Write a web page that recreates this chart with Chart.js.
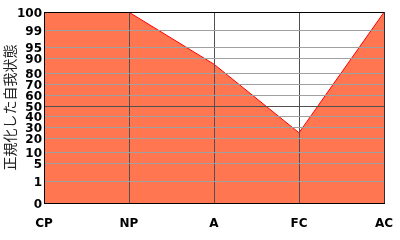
<!DOCTYPE html>
<html>
<head>
<meta charset="utf-8">
<script src="https://cdn.jsdelivr.net/npm/chart.js@4/dist/chart.umd.min.js"></script>
<style>
  html, body { margin: 0; padding: 0; background: #ffffff; }
  #wrap { width: 400px; height: 240px; }
</style>
</head>
<body>
<div id="wrap"><canvas id="c" width="400" height="240"></canvas></div>
<script>
// ---- data ----
const categories = ['CP', 'NP', 'A', 'FC', 'AC'];
const egoValues = [100, 100, 86, 25, 100];
const yTickValues = [0, 1, 5, 10, 20, 30, 40, 50, 60, 70, 80, 90, 95, 99, 100];
// axis geometry: relative height of each tick label on the (non-linear) percentile axis
const yTickFractions = [0, 0.1152, 0.2094, 0.2670, 0.3403, 0.3979, 0.4555, 0.5079,
                        0.5654, 0.6230, 0.6806, 0.7592, 0.8168, 0.9058, 1];
const yTitle = '正規化した自我状態';

function toFraction(v) {
  if (v <= yTickValues[0]) return yTickFractions[0];
  for (let i = 1; i < yTickValues.length; i++) {
    if (v <= yTickValues[i]) {
      const a = yTickValues[i - 1], b = yTickValues[i];
      const t = (v - a) / (b - a);
      return yTickFractions[i - 1] + t * (yTickFractions[i] - yTickFractions[i - 1]);
    }
  }
  return yTickFractions[yTickFractions.length - 1];
}
function fromFraction(f) {
  for (let i = 1; i < yTickFractions.length; i++) {
    if (f <= yTickFractions[i]) {
      const a = yTickFractions[i - 1], b = yTickFractions[i];
      const t = (f - a) / (b - a);
      return yTickValues[i - 1] + t * (yTickValues[i] - yTickValues[i - 1]);
    }
  }
  return yTickValues[yTickValues.length - 1];
}

class PercentileScale extends Chart.LinearScale {
  buildTicks() {
    return yTickValues.map(v => ({ value: v }));
  }
  getPixelForValue(v) {
    return this.bottom - toFraction(v) * (this.bottom - this.top) + 0.25;
  }
  getValueForPixel(p) {
    return fromFraction((this.bottom - p) / (this.bottom - this.top));
  }
}
PercentileScale.id = 'percentile';
PercentileScale.defaults = Chart.LinearScale.defaults;
Chart.register(PercentileScale);

const tickFont = { family: '"DejaVu Sans", sans-serif', size: 12, weight: 'bold' };

new Chart(document.getElementById('c'), {
  type: 'line',
  data: {
    labels: categories,
    datasets: [{
      data: egoValues,
      borderColor: '#ff0000',
      borderWidth: 1,
      backgroundColor: '#ff7650',
      fill: 'origin',
      pointRadius: 0,
      tension: 0
    }]
  },
  options: {
    responsive: false,
    animation: false,
    devicePixelRatio: 1,
    layout: { padding: { top: 12, right: 16, bottom: 0, left: 0 } },
    plugins: { legend: { display: false }, tooltip: { enabled: false } },
    scales: {
      x: {
        type: 'category',
        offset: false,
        afterFit: s => { s.height = 37; },
        grid: {
          z: 1,
          color: ctx => ctx.index === 4 ? '#303030' : '#505050',
          lineWidth: 1,
          drawTicks: true,
          tickLength: 10,
          tickColor: 'rgba(0,0,0,0)'
        },
        border: { display: true, color: '#000000', width: 1, z: 2 },
        ticks: { font: tickFont, color: '#000000', padding: 4, maxRotation: 0, autoSkip: false }
      },
      y: {
        type: 'percentile',
        min: 0,
        max: 100,
        afterFit: s => { s.width = 44; },
        grid: {
          z: 1,
          color: ctx => {
            const v = ctx.tick ? ctx.tick.value : null;
            if (v === 100) return '#000000';
            if (v === 50) return '#505050';
            return '#a0a0a0';
          },
          lineWidth: 1,
          drawTicks: false
        },
        border: { display: true, color: '#000000', width: 1, z: 2 },
        ticks: {
          font: tickFont,
          color: '#000000',
          padding: 2,
          labelOffset: 1.5,
          autoSkip: false,
          callback: v => String(v)
        },
        title: {
          display: true,
          text: yTitle,
          font: { family: '"Noto Sans CJK JP", sans-serif', size: 14 },
          color: '#222222',
          padding: { top: 1, bottom: 0 }
        }
      }
    }
  }
});
</script>
</body>
</html>
